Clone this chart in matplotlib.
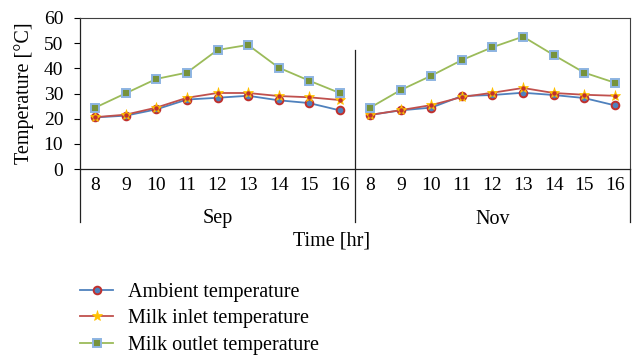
import matplotlib
matplotlib.use("Agg")
import matplotlib.pyplot as plt
from matplotlib.lines import Line2D

plt.rcParams['font.family'] = ['Liberation Serif', 'DejaVu Serif']

hours = ['8', '9', '10', '11', '12', '13', '14', '15', '16']
months = ['Sep', 'Nov']

ambient_sep = [20.5, 21.2, 23.7, 27.6, 28.3, 29.1, 27.3, 26.2, 23.3]
ambient_nov = [21.5, 23.3, 24.4, 29.0, 29.4, 30.3, 29.4, 28.2, 25.3]
inlet_sep = [20.6, 21.6, 24.4, 28.3, 30.2, 30.2, 29.0, 28.5, 27.4]
inlet_nov = [21.5, 23.4, 25.4, 28.6, 30.3, 32.2, 30.2, 29.5, 29.1]
outlet_sep = [24.4, 30.1, 35.8, 38.3, 47.3, 49.3, 40.3, 35.1, 30.2]
outlet_nov = [24.4, 31.4, 37.1, 43.3, 48.4, 52.6, 45.3, 38.3, 34.3]

W, H = 634, 357
fig = plt.figure(figsize=(W / 100, H / 100), dpi=100)
L, R, B, T = 80, 630, 169, 18
ax = fig.add_axes([L / W, 1 - B / H, (R - L) / W, (B - T) / H])

n = len(hours)
series = [
    ('Ambient temperature', ambient_sep, ambient_nov,
     dict(color='#4F81BD', marker='o', markersize=5.5, markerfacecolor='#4F81BD',
          markeredgecolor='#C0302D', markeredgewidth=1.4, lw=1.3)),
    ('Milk inlet temperature', inlet_sep, inlet_nov,
     dict(color='#C0504D', marker='*', markersize=8, markerfacecolor='#FFC000',
          markeredgecolor='#FFC000', markeredgewidth=0.5, lw=1.3)),
    ('Milk outlet temperature', outlet_sep, outlet_nov,
     dict(color='#9BBB59', marker='s', markersize=5.5, markerfacecolor='#77933C',
          markeredgecolor='#8DB4E2', markeredgewidth=1.4, lw=1.3)),
]

handles = []
for name, s, nv, st in series:
    for g, vals in enumerate([s, nv]):
        xs = [g * n + i for i in range(n)]
        ax.plot(xs, vals, zorder=3, **st)
        if name == 'Milk inlet temperature':
            ax.plot(xs, vals, ls='none', marker='o', markersize=2.2,
                    color='#C0302D', zorder=4)
    handles.append(Line2D([0], [0], **st))

ax.set_xlim(-0.5, 2 * n - 0.5)
ax.set_ylim(0, 60)
ax.set_yticks(range(0, 61, 10))
ax.tick_params(axis='y', labelsize=14, length=4, width=0.8, direction='out', pad=8)
ax.set_xticks([])
for sp in ['top', 'right']:
    ax.spines[sp].set_color('#404040')
    ax.spines[sp].set_linewidth(0.8)
for sp in ['left', 'bottom']:
    ax.spines[sp].set_color('#222222')
    ax.spines[sp].set_linewidth(0.9)

ax.set_ylabel('Temperature [°C]', fontsize=14.5, labelpad=7)

# group separator inside plot
trans = ax.get_xaxis_transform()
ax.plot([n - 0.5, n - 0.5], [(B - 50) / (B - T), 0], transform=trans,
        color='#222222', lw=0.9, clip_on=False)

# category labels below
ylab = -(186 - B) / (B - T)
for g in range(2):
    for i, h in enumerate(hours):
        ax.text(g * n + i, ylab, h, transform=trans, ha='center', va='center', fontsize=14)
    ax.text(g * n + (n - 1) / 2, -(219 - B) / (B - T), months[g], transform=trans,
            ha='center', va='center', fontsize=14.5)

ybot = -(222 - B) / (B - T)
for xv in [-0.5, n - 0.5, 2 * n - 0.5]:
    ax.plot([xv, xv], [0, ybot], transform=trans, color='#222222', lw=0.9, clip_on=False)

fig.text(332 / W, 1 - 241 / H, 'Time [hr]', ha='center', va='center', fontsize=14.5)

leg = fig.legend(handles, [s[0] for s in series], loc='upper left',
                 bbox_to_anchor=(80 / W, 1 - 283 / H), frameon=False, fontsize=14.5,
                 handlelength=1.65, handletextpad=0.75, labelspacing=0.36,
                 borderpad=0, borderaxespad=0)

fig.savefig('out.png', dpi=100)
